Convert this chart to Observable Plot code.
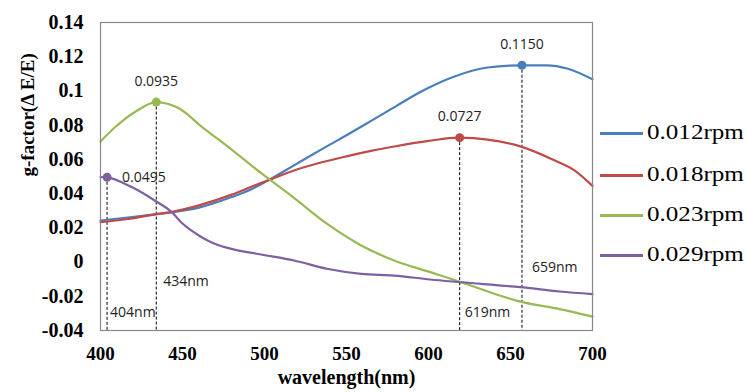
<!DOCTYPE html>
<html><head><meta charset="utf-8">
<script src="https://cdn.jsdelivr.net/npm/d3@7"></script>
<script src="https://cdn.jsdelivr.net/npm/@observablehq/plot@0.6"></script>
<style>
body{margin:0;background:#fff;}
#wrap{position:relative;width:748px;height:392px;overflow:hidden;}
#legend{position:absolute;left:600px;top:0;width:148px;height:392px;}
.swatch{position:absolute;left:0;width:43px;height:3px;}
.lab{position:absolute;left:47px;font:22px "Liberation Serif",serif;line-height:22px;height:22px;transform:scaleX(1.14);transform-origin:left center;white-space:nowrap;color:#000;}
</style></head>
<body><div id="wrap"><div id="legend"></div></div>
<script>
// ---- data ----
const seriesNames = ["0.012rpm", "0.018rpm", "0.023rpm", "0.029rpm"];
const seriesColors = ["#4A7EBB", "#BE4B48", "#98B954", "#7D60A0"];

const wl012 = [400,418,434,443,460,480,492,503,518,535,550,565,580,595,615,636,657,672,685,700];
const g012  = [0.0243,0.0262,0.0280,0.0290,0.0318,0.0380,0.0425,0.0481,0.0565,0.0660,0.0741,0.0825,0.0910,0.0994,0.1082,0.1137,0.1150,0.1150,0.1130,0.1068];

const wl018 = [400,418,434,443,460,480,492,503,518,535,550,565,580,600,619,636,656,676,689,700];
const g018  = [0.0233,0.0253,0.0280,0.0292,0.0331,0.0394,0.0440,0.0481,0.0535,0.0583,0.0618,0.0650,0.0677,0.0708,0.0727,0.0716,0.0676,0.0598,0.0536,0.0445];

const wl023 = [400,409,421,434,448,462,479,499,518,538,559,579,601,620,640,656,680,700];
const g023  = [0.0705,0.0789,0.0877,0.0935,0.0897,0.0789,0.0664,0.0512,0.0375,0.0224,0.0097,0.0009,-0.0059,-0.0118,-0.0185,-0.0231,-0.0275,-0.0319];

const wl029 = [400,404,419,434,443,450,460,465,470,480,498,518,538,559,579,601,620,656,680,700];
const g029  = [0.0497,0.0495,0.0438,0.0354,0.0296,0.0225,0.0155,0.0127,0.0106,0.0077,0.0044,0.0009,-0.0039,-0.0069,-0.0079,-0.0102,-0.0118,-0.0147,-0.0172,-0.0187];

const peakNm = [657, 619, 434, 404];
const peakG = [0.1150, 0.0727, 0.0935, 0.0495];
const peakNmLabels = ["659nm", "619nm", "434nm", "404nm"];

const xTicks = [400, 450, 500, 550, 600, 650, 700];
const yTicks = [-0.04, -0.02, 0, 0.02, 0.04, 0.06, 0.08, 0.1, 0.12, 0.14];

const xTitle = "wavelength(nm)";
const yTitle = "g-factor(\u0394 E/E)";

// ---- build ----
const wls = [wl012, wl018, wl023, wl029];
const gs = [g012, g018, g023, g029];
const rows = [];
seriesNames.forEach((s, i) => wls[i].forEach((w, j) => rows.push({series: s, wl: w, g: gs[i][j]})));
const peaks = peakNm.map((w, i) => ({series: seriesNames[i], wl: w, g: peakG[i], val: peakG[i].toFixed(4), nmLab: peakNmLabels[i]}));

// layout for the annotation labels (not data)
const nmLabelY = [-0.0034, -0.0293, -0.0112, -0.0293];
const nmLabelDx = [10, 5, 7, 3];
const nmLabels = peaks.map((p, i) => ({...p, ly: nmLabelY[i]}));

const serif = "Liberation Serif, Times New Roman, serif";
const sans = "Open Sans, Liberation Sans, sans-serif";

const chart = Plot.plot({
  width: 748, height: 392,
  marginLeft: 100, marginRight: 156, marginTop: 22, marginBottom: 62,
  x: {domain: [400, 700]},
  y: {domain: [-0.04, 0.14]},
  color: {domain: seriesNames, range: seriesColors},
  marks: [
    Plot.axisX({ticks: xTicks, tickSize: 0, tickPadding: 16, label: null, fontSize: 19, fontWeight: "bold", fontFamily: serif, fill: "#000"}),
    Plot.axisY({ticks: yTicks, tickSize: 0, tickPadding: 17, label: null, tickFormat: d => String(+d.toFixed(2)), fontSize: 20, fontWeight: "bold", fontFamily: serif, fill: "#000"}),
    Plot.ruleX(peaks, {x: "wl", y1: "g", y2: -0.04, stroke: "#000", strokeWidth: 1, strokeDasharray: "3,2"}),
    Plot.line(rows, {x: "wl", y: "g", z: "series", stroke: "series", strokeWidth: 2.2, curve: "monotone-x"}),
    Plot.dot(peaks, {x: "wl", y: "g", fill: "series", r: 4.5}),
    Plot.text(peaks.slice(0, 3), {x: "wl", y: "g", text: "val", dy: -21, fontSize: 14, fontFamily: sans, fill: "#222"}),
    Plot.text(peaks.slice(3), {x: "wl", y: "g", text: "val", dx: 15, textAnchor: "start", fontSize: 14, fontFamily: sans, fill: "#222"}),
    Plot.text(nmLabels, {x: "wl", y: "ly", text: "nmLab", textAnchor: "start", fontSize: 14, fontFamily: sans, fill: "#222"}),
    Plot.text([xTitle], {frameAnchor: "bottom", dy: 53, fontSize: 20, fontWeight: "bold", fontFamily: serif, fill: "#000"}),
    Plot.text([yTitle], {frameAnchor: "left", dx: -73, rotate: -90, fontSize: 19, fontWeight: "bold", fontFamily: serif, fill: "#000"}),
    Plot.frame({stroke: "#898989", strokeWidth: 1.2})
  ]
});
document.getElementById("wrap").prepend(chart);

// individual horizontal offsets for the nm labels
const nmGroup = Array.from(chart.querySelectorAll('g[aria-label="text"]'))[2];
if (nmGroup) {
  Array.from(nmGroup.querySelectorAll("text")).forEach((t, i) => {
    const tr = t.getAttribute("transform") || "";
    t.setAttribute("transform", tr + ` translate(${nmLabelDx[i]},0)`);
  });
}

// legend
const legendY = [133, 175, 215, 255];
const legend = document.getElementById("legend");
seriesNames.forEach((s, i) => {
  const sw = document.createElement("div");
  sw.className = "swatch";
  sw.style.top = (legendY[i] - 1.5) + "px";
  sw.style.background = seriesColors[i];
  legend.appendChild(sw);
  const lb = document.createElement("div");
  lb.className = "lab";
  lb.style.top = (legendY[i] - 12) + "px";
  lb.textContent = s;
  legend.appendChild(lb);
});
</script>
</body></html>
